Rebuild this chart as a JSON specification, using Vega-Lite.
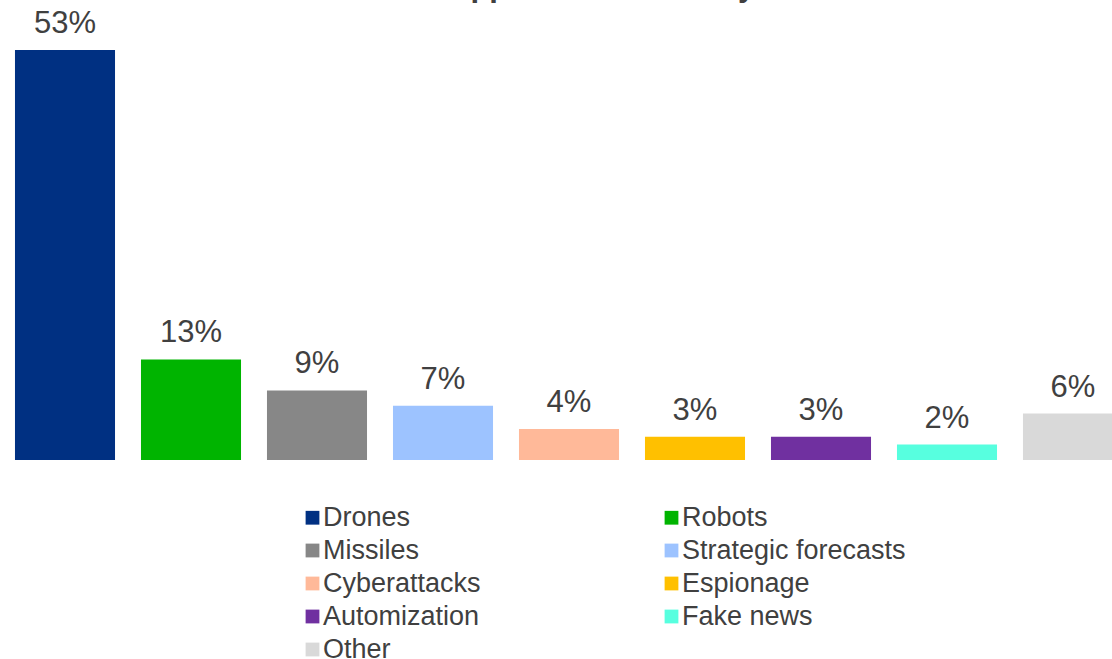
{
  "$schema": "https://vega.github.io/schema/vega-lite/v6.json",
  "autosize": {"type": "none"},
  "padding": {"left": 2, "top": 50, "right": 0, "bottom": 199},
  "width": 1110,
  "height": 410,
  "background": "white",
  "title": {
    "text": "Applications of AI by armed forces",
    "anchor": "start",
    "frame": "group",
    "dx": 446,
    "dy": 19,
    "offset": 0,
    "baseline": "alphabetic",
    "font": "Liberation Sans",
    "fontSize": 31,
    "fontWeight": "bold",
    "color": "#404040"
  },
  "config": {"view": {"stroke": null}},
  "data": {
    "values": [
      {"category": "Drones", "share": 0.53},
      {"category": "Robots", "share": 0.13},
      {"category": "Missiles", "share": 0.09},
      {"category": "Strategic forecasts", "share": 0.07},
      {"category": "Cyberattacks", "share": 0.04},
      {"category": "Espionage", "share": 0.03},
      {"category": "Automization", "share": 0.03},
      {"category": "Fake news", "share": 0.02},
      {"category": "Other", "share": 0.06}
    ]
  },
  "encoding": {
    "x": {
      "field": "category",
      "type": "nominal",
      "sort": null,
      "axis": null,
      "scale": {"range": [0, 1134], "paddingInner": 0.206, "paddingOuter": 0.103}
    },
    "y": {
      "field": "share",
      "type": "quantitative",
      "axis": null,
      "scale": {"domain": [0, 0.53], "nice": false}
    }
  },
  "layer": [
    {
      "mark": {"type": "bar", "clip": true},
      "encoding": {
        "color": {
          "field": "category",
          "type": "nominal",
          "sort": null,
          "scale": {
            "domain": ["Drones", "Robots", "Missiles", "Strategic forecasts", "Cyberattacks", "Espionage", "Automization", "Fake news", "Other"],
            "range": ["#003082", "#00B400", "#878787", "#9DC3FF", "#FFB999", "#FFC000", "#7030A0", "#57FFDF", "#D9D9D9"]
          },
          "legend": {
            "title": null,
            "orient": "none",
            "direction": "horizontal",
            "legendX": 297,
            "legendY": 454,
            "columns": 2,
            "columnPadding": 177,
            "rowPadding": 5,
            "symbolType": "square",
            "symbolSize": 190,
            "symbolStrokeWidth": 0,
            "labelOffset": -3,
            "labelFont": "Liberation Sans",
            "labelFontSize": 27,
            "labelColor": "#404040",
            "labelLimit": 400
          }
        }
      }
    },
    {
      "mark": {
        "type": "text",
        "baseline": "alphabetic",
        "dy": -17,
        "font": "Liberation Sans",
        "fontSize": 31,
        "color": "#404040",
        "clip": false
      },
      "encoding": {
        "text": {"field": "share", "type": "quantitative", "format": ".0%"}
      }
    }
  ]
}
